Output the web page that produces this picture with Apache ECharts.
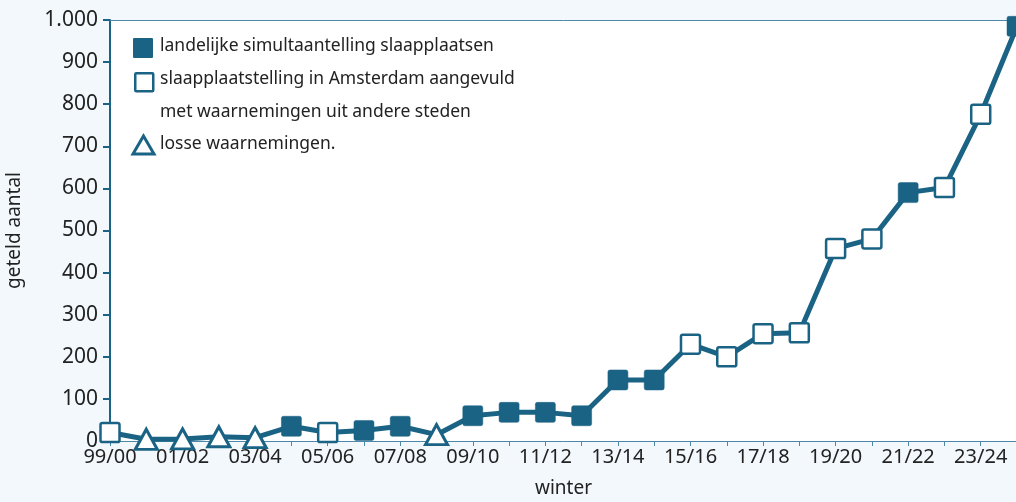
<!DOCTYPE html>
<html>
<head>
<meta charset="utf-8">
<script src="https://cdn.jsdelivr.net/npm/echarts@6/dist/echarts.min.js"></script>
<style>
html,body{margin:0;padding:0;background:#f3f8fc;}
#chart{width:1016px;height:502px;}
</style>
</head>
<body>
<div id="chart"></div>
<script>
const categories = ['99/00','00/01','01/02','02/03','03/04','04/05','05/06','06/07','07/08','08/09','09/10','10/11','11/12','12/13','13/14','14/15','15/16','16/17','17/18','18/19','19/20','20/21','21/22','22/23','23/24','24/25'];
const values = [20,4,5,10,8,35,20,25,35,15,60,68,68,60,145,145,230,200,255,257,457,480,590,602,776,985];
// F = landelijke simultaantelling, O = slaapplaatstelling Amsterdam aangevuld, T = losse waarnemingen
const types = ['O','T','T','T','T','F','O','F','F','T','F','F','F','F','F','F','O','O','O','O','O','O','F','O','O','F'];
const yTicks = [0,100,200,300,400,500,600,700,800,900,1000];
const legendLabels = ['landelijke simultaantelling slaapplaatsen','slaapplaatstelling in Amsterdam aangevuld','met waarnemingen uit andere steden','losse waarnemingen.'];

const C = '#1b6384';
const FONT = '"Noto Sans", "Open Sans", sans-serif';
const SQ = 'path://M1,0 L9,0 Q10,0 10,1 L10,9 Q10,10 9,10 L1,10 Q0,10 0,9 L0,1 Q0,0 1,0 Z';

function styleFor(t){
  if (t === 'F') return {symbol:SQ, symbolSize:20, itemStyle:{color:C, borderColor:C, borderWidth:0.5}};
  if (t === 'O') return {symbol:SQ, symbolSize:19, itemStyle:{color:'#ffffff', borderColor:C, borderWidth:2.5}};
  return {symbol:'triangle', symbolSize:[22,20], itemStyle:{color:'#ffffff', borderColor:C, borderWidth:3}};
}
const data = values.map((v,i)=>Object.assign({value:v}, styleFor(types[i])));

const chart = echarts.init(document.getElementById('chart'), null, {renderer:'canvas'});
chart.setOption({
  backgroundColor:'#f3f8fc',
  animation:false,
  grid:{left:110, top:20, width:907, height:421, show:true, backgroundColor:'#ffffff', borderWidth:0, outerBoundsMode:'none', containLabel:false},
  xAxis:[{
    type:'category', data:categories, boundaryGap:false,
    name:'winter', nameLocation:'middle', nameGap:38,
    nameTextStyle:{fontFamily:FONT, fontSize:19, color:'#222'},
    axisLine:{show:true, lineStyle:{color:'#4d88a8', width:1}},
    axisTick:{show:true, interval:0, length:5, lineStyle:{color:'#4d88a8', width:1}},
    axisLabel:{interval:1, fontFamily:FONT, fontSize:20, color:'#222', margin:6},
    splitLine:{show:false}
  },{
    type:'category', data:categories, boundaryGap:false, position:'top',
    axisLine:{show:true, lineStyle:{color:'#4d88a8', width:1}},
    axisTick:{show:false}, axisLabel:{show:false}, splitLine:{show:false}
  }],
  yAxis:{
    type:'value', min:0, max:1000, interval:100,
    name:'geteld aantal', nameLocation:'middle', nameGap:86, nameRotate:90,
    nameTextStyle:{fontFamily:FONT, fontSize:19, color:'#222'},
    axisLine:{show:true, lineStyle:{color:C, width:2}},
    axisTick:{show:true, length:7, lineStyle:{color:C, width:2}},
    axisLabel:{fontFamily:FONT, fontSize:21, color:'#222', margin:12,
      formatter:function(v){ return v>=1000 ? String(v).replace(/(\d)(?=(\d{3})+$)/g,'$1.') : String(v); }},
    splitLine:{show:false}
  },
  series:[{
    type:'line', data:data, xAxisIndex:0,
    lineStyle:{color:C, width:5},
    itemStyle:{color:C},
    z:3, clip:false
  }],
  graphic:[
    {type:'rect', left:133, top:38, shape:{width:20, height:20, r:1}, style:{fill:C}},
    {type:'text', left:160, top:37, style:{text:legendLabels[0], fontFamily:FONT, fontSize:17.5, fill:'#222'}},
    {type:'rect', left:134, top:72, shape:{width:18, height:18, r:1}, style:{fill:'#fff', stroke:C, lineWidth:2.5}},
    {type:'text', left:160, top:70, style:{text:legendLabels[1], fontFamily:FONT, fontSize:17.5, fill:'#222'}},
    {type:'text', left:160, top:103, style:{text:legendLabels[2], fontFamily:FONT, fontSize:17.5, fill:'#222'}},
    {type:'polygon', shape:{points:[[143.5,136],[154,154],[133,154]]}, style:{fill:'#fff', stroke:C, lineWidth:3}},
    {type:'text', left:160, top:135, style:{text:legendLabels[3], fontFamily:FONT, fontSize:17.5, fill:'#222'}}
  ]
});
</script>
</body>
</html>
